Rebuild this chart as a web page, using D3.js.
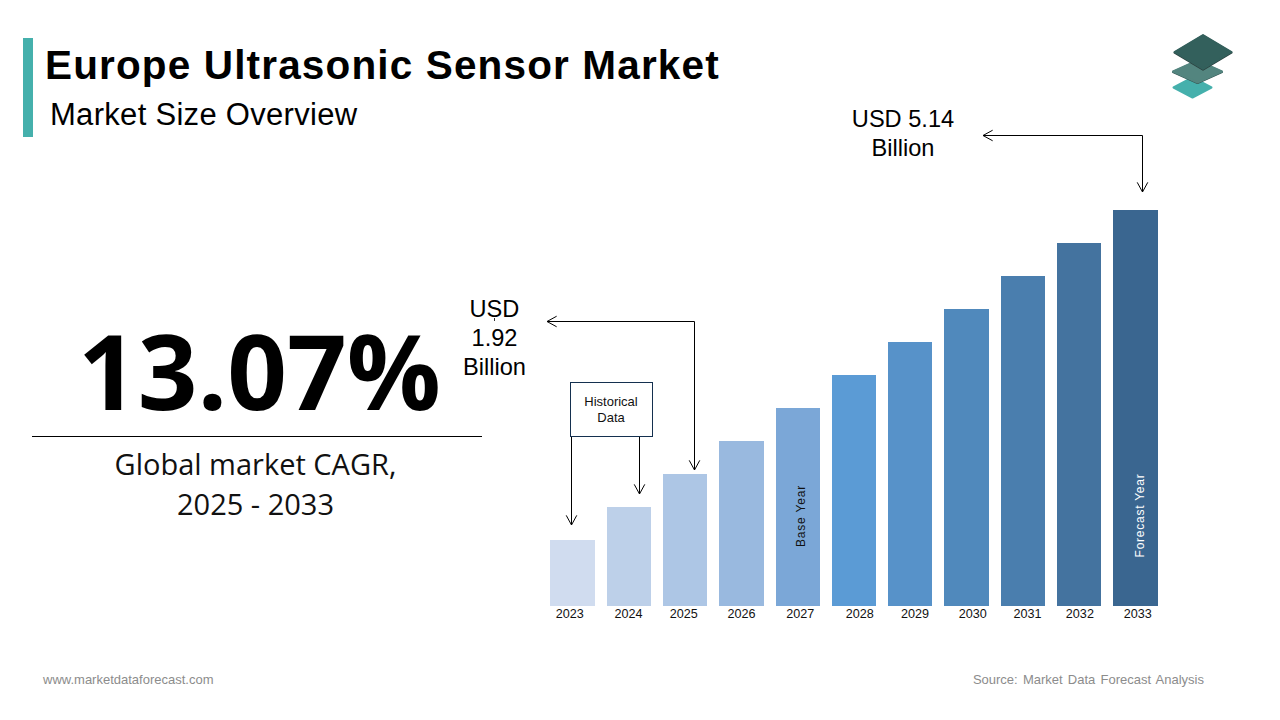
<!DOCTYPE html>
<html><head><meta charset="utf-8">
<script src="https://cdnjs.cloudflare.com/ajax/libs/d3/7.9.0/d3.min.js"></script>
<style>
html,body{margin:0;padding:0;background:#fff}
svg{display:block}
text{font-family:"Liberation Sans",Arial,sans-serif}
</style></head><body>
<svg id="c" width="1280" height="720"></svg>
<script>
const years=["2023","2024","2025","2026","2027","2028","2029","2030","2031","2032","2033"];
const values=[0.857,1.285,1.713,2.142,2.57,2.998,3.427,3.855,4.283,4.712,5.14];
const barColors=["#d0dcef","#bdd0e9","#adc6e5","#99b9df","#7ba7d7","#5b9bd5","#5792c9","#5089bc","#4a7eae","#44739f","#3a6690"];
const tickNudge=[-2.8,-0.3,-1.3,0.2,2.7,5.7,4.7,6.2,4.7,0.7,2.2];

const svg=d3.select("#c");
const x=d3.scaleBand().domain(years).range([550.3,1157.65]).paddingInner(0.2123).paddingOuter(0);
const y=d3.scaleLinear().domain([0,5.14]).range([606,210]);

function arrow(points){
  const line=d3.line();
  svg.append("path").attr("d",line(points)).attr("fill","none").attr("stroke","#000").attr("stroke-width",1);
  const [a,b]=points.slice(-2);
  const ang=Math.atan2(b[1]-a[1],b[0]-a[0]);
  const len=11, w=0.5;
  const head=[[b[0]-len*Math.cos(ang-w),b[1]-len*Math.sin(ang-w)],b,[b[0]-len*Math.cos(ang+w),b[1]-len*Math.sin(ang+w)]];
  svg.append("path").attr("d",line(head)).attr("fill","none").attr("stroke","#000").attr("stroke-width",1);
}

// header
svg.append("rect").attr("x",23).attr("y",38).attr("width",10).attr("height",99).attr("fill","#45b0ac");
svg.append("text").attr("x",45).attr("y",79).attr("font-size",40.5).attr("font-weight",700).attr("letter-spacing",1.15).attr("fill","#000").text("Europe Ultrasonic Sensor Market");
svg.append("text").attr("x",50).attr("y",125).attr("font-size",31).attr("letter-spacing",0.3).attr("fill","#000").text("Market Size Overview");

// logo
function layer(cx,cy,w,h,fill){
  const r=d3.line().curve(d3.curveLinearClosed)([[cx-w,cy],[cx,cy-h],[cx+w,cy],[cx,cy+h]]);
  svg.append("path").attr("d",r).attr("fill",fill).attr("stroke",fill).attr("stroke-width",2).attr("stroke-linejoin","round");
}
layer(1192.5,87.5,19,10,"#45b0ac");
layer(1197.5,72,24.5,11,"#2f4f4d");
layer(1197.5,71.5,24.5,11,"#53857f");
layer(1203,52.7,28.5,17,"#2a3e3c");
layer(1203,52,28.5,17,"#33605c");

// left stat
svg.append("text").attr("x",259.5).attr("y",410).attr("text-anchor","middle").attr("font-size",104.5).attr("font-weight",700)
  .style("font-family","'Open Sans'").attr("fill","#000").text("13.07%");
svg.append("line").attr("x1",32).attr("x2",482).attr("y1",436.5).attr("y2",436.5).attr("stroke","#000").attr("stroke-width",1);
const g1=svg.append("text").attr("text-anchor","middle").attr("font-size",29).style("font-family","'Open Sans'").attr("fill","#111");
g1.append("tspan").attr("x",255.5).attr("y",475).text("Global market CAGR,");
g1.append("tspan").attr("x",255.5).attr("y",515).text("2025 - 2033");

// bars
svg.append("g").selectAll("rect").data(years).join("rect")
  .attr("x",d=>x(d)).attr("width",x.bandwidth())
  .attr("y",(d,i)=>y(values[i])).attr("height",(d,i)=>y(0)-y(values[i]))
  .attr("fill",(d,i)=>barColors[i]).attr("shape-rendering","crispEdges");

// axis
const ax=svg.append("g").attr("transform","translate(0,606)").call(d3.axisBottom(x).tickSize(0).tickPadding(1));
ax.select(".domain").remove();
ax.selectAll("text").attr("font-size",12.6).style("font-family","'Liberation Sans'").attr("fill","#111")
  .attr("dx",(d,i)=>tickNudge[i]).attr("dy","0.84em");

// rotated labels
function vlabel(cx,cy,t,fill,ls){
  svg.append("text").attr("transform",`translate(${cx},${cy}) rotate(-90)`).attr("text-anchor","middle")
    .attr("font-size",12).attr("letter-spacing",ls).attr("fill",fill).text(t);
}
vlabel(805,516,"Base Year","#111",0.8);
vlabel(1144,515.5,"Forecast Year","#fff",0.75);

// annotations
arrow([[1142.5,135.5],[983,135.5]]);
arrow([[1142.5,135.5],[1142.5,192]]);
arrow([[694.5,321.5],[547,321.5]]);
arrow([[694.5,321.5],[694.5,470]]);
arrow([[571.5,436],[571.5,525]]);
arrow([[639.5,436],[639.5,494]]);

svg.append("rect").attr("x",570.5).attr("y",382.5).attr("width",82).attr("height",54).attr("fill","#fff").attr("stroke","#14304f").attr("stroke-width",1);
const h=svg.append("text").attr("text-anchor","middle").attr("font-size",13).attr("fill","#111");
h.append("tspan").attr("x",611).attr("y",406).text("Historical");
h.append("tspan").attr("x",611).attr("y",422).text("Data");

const a1=svg.append("text").attr("text-anchor","middle").attr("font-size",23.6).attr("fill","#000");
a1.append("tspan").attr("x",903).attr("y",127).text("USD 5.14");
a1.append("tspan").attr("x",903).attr("y",156).text("Billion");
const a2=svg.append("text").attr("text-anchor","middle").attr("font-size",23.6).attr("fill","#000");
a2.append("tspan").attr("x",494.5).attr("y",317).text("USD");
a2.append("tspan").attr("x",494.5).attr("y",346).text("1.92");
a2.append("tspan").attr("x",494.5).attr("y",375).text("Billion");
svg.append("line").attr("x1",494.5).attr("x2",494.5).attr("y1",318).attr("y2",321).attr("stroke","#333").attr("stroke-width",1);

// footer
svg.append("text").attr("x",43).attr("y",684).attr("font-size",13).attr("fill","#8c8c8c").text("www.marketdataforecast.com");
svg.append("text").attr("x",1204).attr("y",684).attr("text-anchor","end").attr("font-size",13).attr("word-spacing",1.6).attr("fill","#8c8c8c").text("Source: Market Data Forecast Analysis");
</script>
</body></html>
